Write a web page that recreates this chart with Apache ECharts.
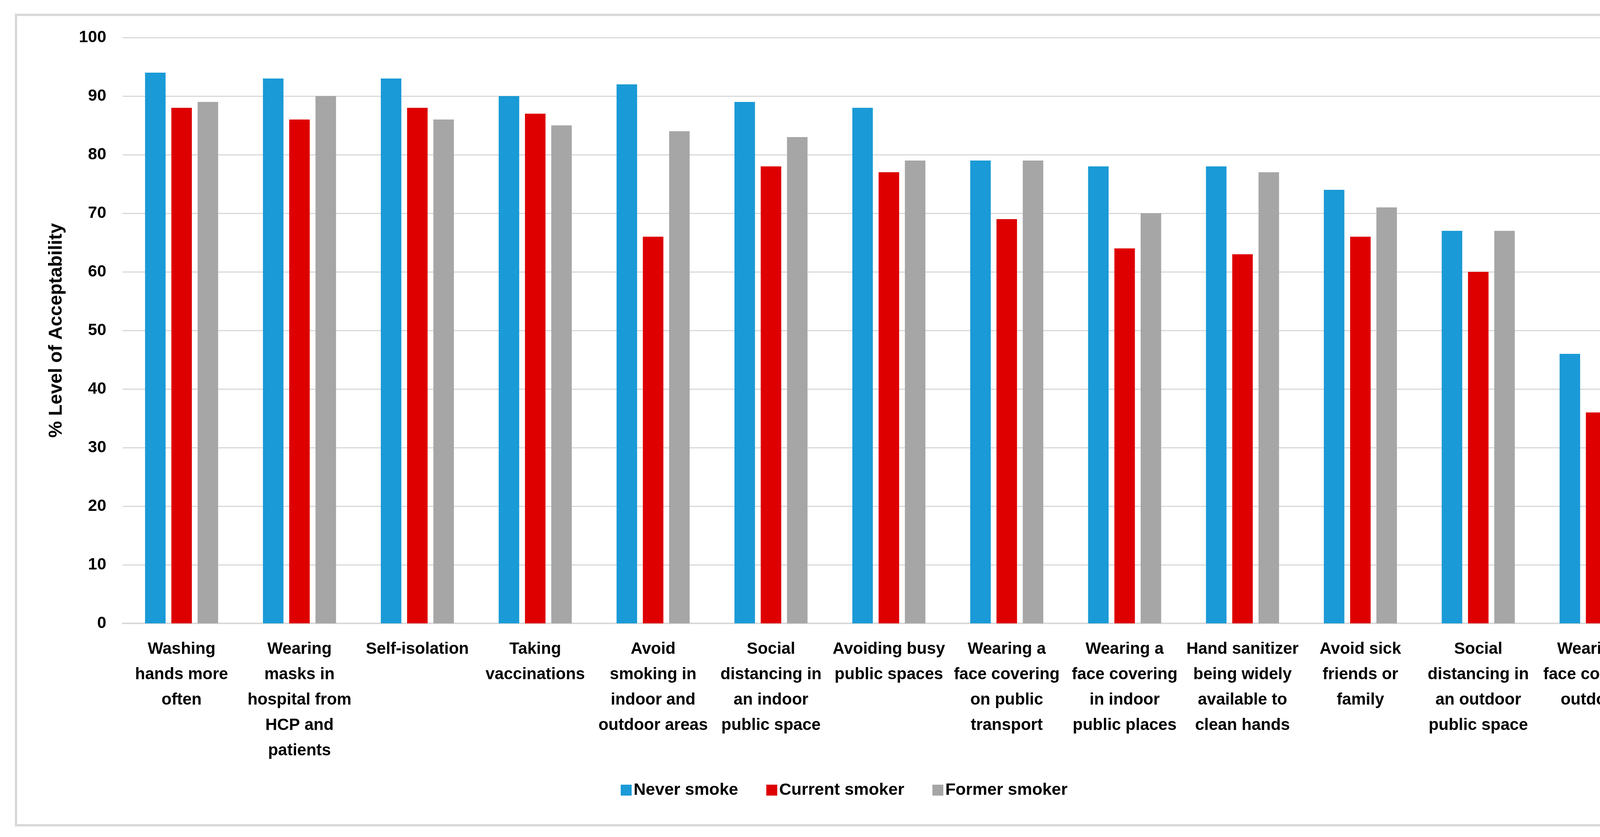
<!DOCTYPE html>
<html>
<head>
<meta charset="utf-8">
<script src="https://cdn.jsdelivr.net/npm/echarts@6/dist/echarts.min.js"></script>
<style>
html,body{margin:0;padding:0;background:#fff;}
#chart{width:4322px;height:2143px;}
</style>
</head>
<body>
<div id="chart"></div>
<script>
var categories = [
  "Washing\nhands more\noften",
  "Wearing\nmasks in\nhospital from\nHCP and\npatients",
  "Self-isolation",
  "Taking\nvaccinations",
  "Avoid\nsmoking in\nindoor and\noutdoor areas",
  "Social\ndistancing in\nan indoor\npublic space",
  "Avoiding busy\npublic spaces",
  "Wearing a\nface covering\non public\ntransport",
  "Wearing a\nface covering\nin indoor\npublic places",
  "Hand sanitizer\nbeing widely\navailable to\nclean hands",
  "Avoid sick\nfriends or\nfamily",
  "Social\ndistancing in\nan outdoor\npublic space",
  "Wearing a\nface covering\noutdoors"
];
var neverSmoke   = [94, 93, 93, 90, 92, 89, 88, 79, 78, 78, 74, 67, 46];
var currentSmoker = [88, 86, 88, 87, 66, 78, 77, 69, 64, 63, 66, 60, 36];
var formerSmoker  = [89, 90, 86, 85, 84, 83, 79, 79, 70, 77, 71, 67, 46];
var seriesNames = ["Never smoke", "Current smoker", "Former smoker"];
var yTitle = "% Level of Acceptability";

var FONT = "'Liberation Sans', Arial, sans-serif";
var chart = echarts.init(document.getElementById('chart'), null, {renderer: 'canvas'});
var colors = ['#1A9AD6', '#DE0000', '#A6A6A6'];
function mk(name, data, i) {
  return {
    name: name, type: 'bar', data: data,
    barGap: '28%', barCategoryGap: '38%',
    itemStyle: {color: colors[i]},
    animation: false
  };
}
chart.setOption({
  animation: false,
  backgroundColor: '#fff',
  graphic: [{
    type: 'rect', left: 38, top: 35,
    shape: {width: 4256, height: 2075},
    style: {fill: 'none', stroke: '#D9D9D9', lineWidth: 6}
  }],
  grid: {left: 314, right: 85, top: 96, bottom: 547, containLabel: false},
  legend: {
    data: seriesNames, bottom: 90, left: 'center',
    itemWidth: 28, itemHeight: 28, itemGap: 72,
    icon: 'rect',
    textStyle: {fontFamily: FONT, fontSize: 43, fontWeight: 'bold', color: '#000', lineHeight: 50}
  },
  xAxis: {
    type: 'category', data: categories,
    axisTick: {show: false},
    axisLine: {lineStyle: {color: '#D9D9D9', width: 4}},
    axisLabel: {
      interval: 0, margin: 34, color: '#000',
      fontFamily: FONT, fontSize: 42, fontWeight: 'bold', lineHeight: 65, align: 'center'
    }
  },
  yAxis: {
    type: 'value', min: 0, max: 100, interval: 10,
    name: yTitle, nameLocation: 'middle', nameGap: 145, nameRotate: 90,
    nameTextStyle: {fontFamily: FONT, fontSize: 48, fontWeight: 'bold', color: '#000'},
    axisLine: {show: false}, axisTick: {show: false},
    axisLabel: {margin: 42, color: '#000', fontFamily: FONT, fontSize: 42, fontWeight: 'bold'},
    splitLine: {lineStyle: {color: '#D9D9D9', width: 3}}
  },
  series: [mk(seriesNames[0], neverSmoke, 0), mk(seriesNames[1], currentSmoker, 1), mk(seriesNames[2], formerSmoker, 2)]
});
</script>
</body>
</html>
